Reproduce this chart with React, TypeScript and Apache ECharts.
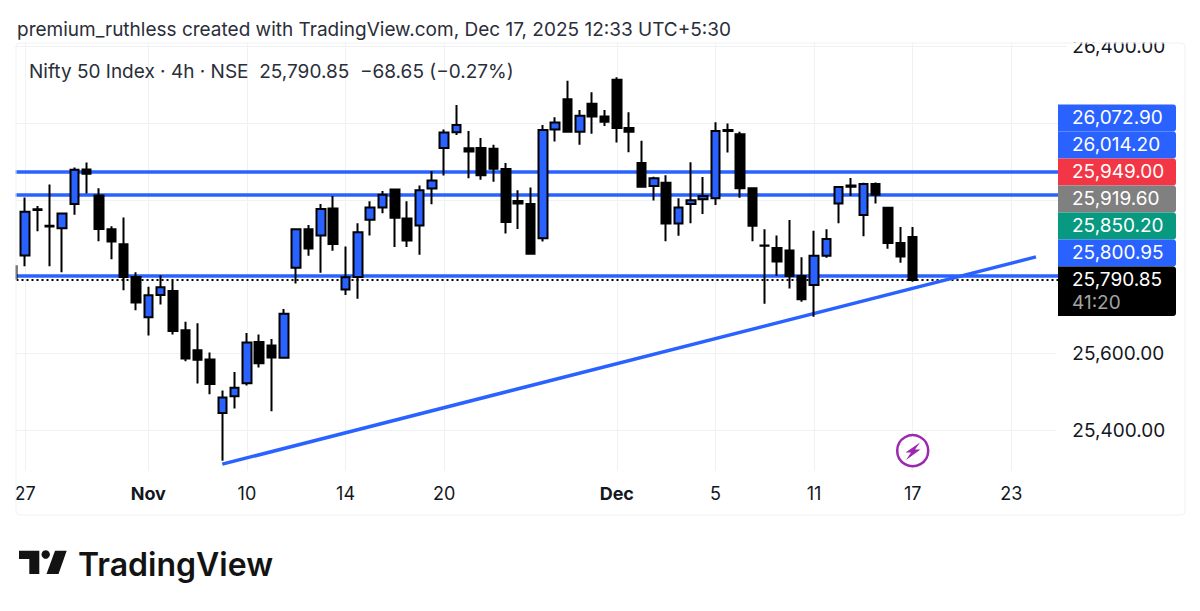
import React, { useEffect, useRef } from "react";
import * as echarts from "echarts";

const categories = [
  "", "27", "", "", "", "", "", "", "", "", "",
  "Nov", "", "", "", "", "", "", "",
  "10", "", "", "", "", "", "", "",
  "14", "", "", "", "", "", "", "",
  "20", "", "", "", "", "", "", "", "", "", "", "", "", "",
  "Dec", "", "", "", "", "", "", "",
  "5", "", "", "", "", "", "", "",
  "11", "", "", "", "", "", "", "",
  "17", "", "", "", "", "", "", "",
  "23", "", "", "", "",
];

const opens = [25827,25855,25975,25932,25926,25989,26079,26011,25923,25884,25799,25694,25752,25762,25660,25608,25584,25444,25488,25522,25629,25620,25588,25823,25923,25907,25977,25766,25799,25948,25980,26027,25951,25933,26029,26135,26176,26134,26135,26133,26080,25997,25989,25900,26183,26262,26177,26250,26217,26313,26187,26096,26036,26044,25938,25989,26001,26004,26182,26171,26030,25881,25874,25868,25801,25778,25854,25990,26037,25960,26041,25979,25887,25903];
const closes = [25795,25969,25973,25930,25964,26078,26068,25924,25891,25799,25732,25751,25772,25658,25586,25583,25520,25485,25510,25628,25574,25589,25703,25923,25873,25976,25885,25798,25915,25980,26013,25953,25894,26025,26050,26175,26195,26126,26064,26081,25942,25990,25859,26182,26201,26177,26219,26217,26203,26187,26177,26034,26056,25938,25980,25999,26010,26179,26179,26030,25932,25880,25839,25801,25741,25854,25898,26033,26034,26041,26013,25887,25852,25790.85];
const lows = [25790,25827,25918,25827,25811,25961,26016,25892,25845,25764,25712,25646,25727,25649,25579,25521,25493,25320,25456,25516,25563,25449,25587,25782,25854,25810,25867,25752,25742,25907,25965,25877,25877,25857,25988,26063,26169,26056,26052,26047,25912,25924,25858,25891,26152,26176,26143,26172,26192,26149,26124,26031,25998,25892,25906,25939,25963,25986,26123,26005,25892,25729,25802,25769,25734,25695,25849,25939,26010,25905,25990,25872,25836,25786];
const highs = [25835,26006,25984,26040,25966,26084,26097,26030,25931,25954,25811,25773,25803,25789,25682,25678,25602,25503,25551,25653,25649,25637,25715,25926,25934,25989,26010,25878,25939,25996,26023,26029,25996,26037,26075,26183,26247,26179,26161,26143,26096,26025,26032,26195,26215,26310,26234,26280,26234,26319,26228,26154,26060,26064,26004,26098,26059,26202,26199,26177,26031,25923,25907,25947,25850,25919,25923,26036,26057,26044,26045,25980,25929,25929];

const gridTicks = [25400, 25600, 25800, 26000, 26200, 26400];
const shownPriceLabels = [25400, 25600, 26400];
const levelLines = [26072.9, 26014.2, 25800.95];
const lastPrice = 25790.85;
const trendStart = 25311;
const trendEnd = 25851;

const tagLabels = ["26,072.90", "26,014.20", "25,949.00", "25,919.60", "25,850.20", "25,800.95"];
const tagColors = ["#2962ff", "#2962ff", "#f23645", "#808080", "#089981", "#2962ff"];
const lastTag = "25,790.85";
const countdown = "41:20";

const headerText = "premium_ruthless created with TradingView.com, Dec 17, 2025 12:33 UTC+5:30";
const legendText = "Nifty 50 Index · 4h · NSE  25,790.85  −68.65 (−0.27%)";
const logoText = "TradingView";

const FONT = "Inter, 'Noto Sans', sans-serif";

export default function App() {
  const ref = useRef<HTMLDivElement>(null);
  useEffect(() => {
    document.body.style.margin = "0";
    const chart = echarts.init(ref.current!, undefined, { renderer: "svg" });
    const candles = opens.map((o, i) => [o, closes[i], lows[i], highs[i]]);
    const trend = categories.map((_, i) => (i === 17 ? trendStart : i === 83 ? trendEnd : null));
    const tagTop = 104;
    const tagH = 27;
    const graphicEls: any[] = [
      // masks that trim the plot to the pane, as in the reference
      { type: "rect", z: 90, silent: true, shape: { x: 0, y: 0, width: 15.5, height: 520 }, style: { fill: "#fff" } },
      { type: "rect", z: 90, silent: true, shape: { x: 1056, y: 320, width: 14, height: 170 }, style: { fill: "#fff" } },
      { type: "rect", z: 90, silent: true, shape: { x: 1056, y: 40, width: 130, height: 2.5 }, style: { fill: "#fff" } },
      { type: "rect", z: 90, silent: true, shape: { x: 0, y: 0, width: 1200, height: 42 }, style: { fill: "#fff" } },
      { type: "rect", z: 91, silent: true, shape: { x: 16, y: 43, width: 1169, height: 472, r: 4 }, style: { fill: "none", stroke: "#f0f1f3", lineWidth: 1 } },
      { type: "text", z: 99, style: { x: 17, y: 29, text: headerText, fontFamily: FONT, fontSize: 19, fill: "#2a2e39", verticalAlign: "middle" } },
      { type: "text", z: 99, style: { x: 29, y: 71, text: legendText, fontFamily: FONT, fontSize: 19, fill: "#2a2e39", verticalAlign: "middle" } },
      // price tags
      ...tagLabels.map((t, i) => ({
        type: "rect", z: 95, silent: true,
        shape: { x: 1058, y: tagTop + i * tagH + 0.5, width: 118, height: tagH, r: [0, 3, 3, 0] },
        style: { fill: tagColors[i] },
      })),
      { type: "rect", z: 95, silent: true, shape: { x: 1058, y: 266.5, width: 118, height: 49.5, r: [0, 3, 3, 0] }, style: { fill: "#000" } },
      ...tagLabels.map((t, i) => ({
        type: "text", z: 96,
        style: { x: 1072, y: tagTop + i * tagH + 13, text: t, fontFamily: FONT, fontSize: 19, fill: "#fff", verticalAlign: "middle" },
      })),
      { type: "text", z: 96, style: { x: 1072, y: 279, text: lastTag, fontFamily: FONT, fontSize: 19, fill: "#fff", verticalAlign: "middle" } },
      { type: "text", z: 96, style: { x: 1072, y: 302, text: countdown, fontFamily: FONT, fontSize: 19, fill: "#a3a3a3", verticalAlign: "middle" } },
      // lightning badge
      { type: "circle", z: 96, silent: true, shape: { cx: 912.7, cy: 450.7, r: 15.5 }, style: { fill: "#fff", stroke: "#9c27b0", lineWidth: 2.5 } },
      { type: "polygon", z: 97, silent: true, shape: { points: [[920, 442.5], [905.5, 452.5], [911, 452.5], [906, 460], [920.5, 449.5], [915, 449.5]] }, style: { fill: "#9c27b0" } },
      // logo
      { type: "polygon", z: 97, silent: true, shape: { points: [[19, 550.7], [39.3, 550.7], [39.3, 574], [29.3, 574], [29.3, 559], [19, 559]] }, style: { fill: "#131313" } },
      { type: "circle", z: 97, silent: true, shape: { cx: 45.7, cy: 554.5, r: 4.2 }, style: { fill: "#131313" } },
      { type: "polygon", z: 97, silent: true, shape: { points: [[55, 550.7], [66.7, 550.7], [58.5, 574], [46.5, 574]] }, style: { fill: "#131313" } },
      { type: "text", z: 97, style: { x: 78, y: 564, text: logoText, fontFamily: FONT, fontSize: 32, fontWeight: 600, fill: "#131313", verticalAlign: "middle" } },
    ];

    chart.setOption({
      animation: false,
      grid: { left: 6.5, top: 43, width: 1060.3, height: 428, containLabel: false },
      xAxis: {
        type: "category",
        data: categories,
        boundaryGap: true,
        axisLine: { show: false },
        axisTick: { show: false },
        axisLabel: {
          interval: (_: number, v: string) => v !== "",
          margin: 13,
          fontFamily: FONT,
          fontSize: 18,
          color: "#131722",
          formatter: (v: string) => (v === "Nov" || v === "Dec" ? `{b|${v}}` : v),
          rich: { b: { fontFamily: FONT, fontSize: 18, fontWeight: 700, color: "#131722" } },
        },
        splitLine: {
          show: true,
          alignWithLabel: true,
          interval: (_: number, v: string) => v !== "",
          lineStyle: { color: "#f0f1f3", width: 1 },
        },
      },
      yAxis: {
        type: "value",
        position: "right",
        min: 25293.16,
        max: 26408.47,
        axisLine: { show: false },
        axisTick: { show: false, customValues: gridTicks },
        axisLabel: {
          customValues: shownPriceLabels,
          margin: 5.5,
          padding: [0, 0, 2, 0],
          fontFamily: FONT,
          fontSize: 19,
          color: "#131722",
          formatter: (v: number) => v.toLocaleString("en-US", { minimumFractionDigits: 2, maximumFractionDigits: 2 }),
        },
        splitLine: { show: true, lineStyle: { color: "#f0f1f3", width: 1 } },
      },
      series: [
        {
          type: "line",
          z: 1,
          data: [],
          silent: true,
          markLine: {
            z: 1,
            silent: true,
            symbol: "none",
            label: { show: false },
            data: [
              ...levelLines.map((v) => ({ yAxis: v, lineStyle: { color: "#2962ff", width: 3.5, type: "solid" } })),
              { yAxis: lastPrice, lineStyle: { color: "#000", width: 2, type: [2, 3] } },
            ],
          },
        },
        {
          type: "line",
          z: 2,
          data: trend,
          connectNulls: true,
          showSymbol: false,
          symbol: "none",
          silent: true,
          lineStyle: { color: "#2962ff", width: 3.5 },
        },
        {
          type: "candlestick",
          z: 3,
          barWidth: 9,
          data: candles,
          silent: true,
          itemStyle: { color: "#2962ff", color0: "#000", borderColor: "#000", borderColor0: "#000", borderWidth: 2 },
        },
      ],
      graphic: { elements: graphicEls },
    });
    return () => chart.dispose();
  }, []);
  return <div ref={ref} style={{ position: "fixed", left: 0, top: 0, width: 1200, height: 611, background: "#fff" }} />;
}
